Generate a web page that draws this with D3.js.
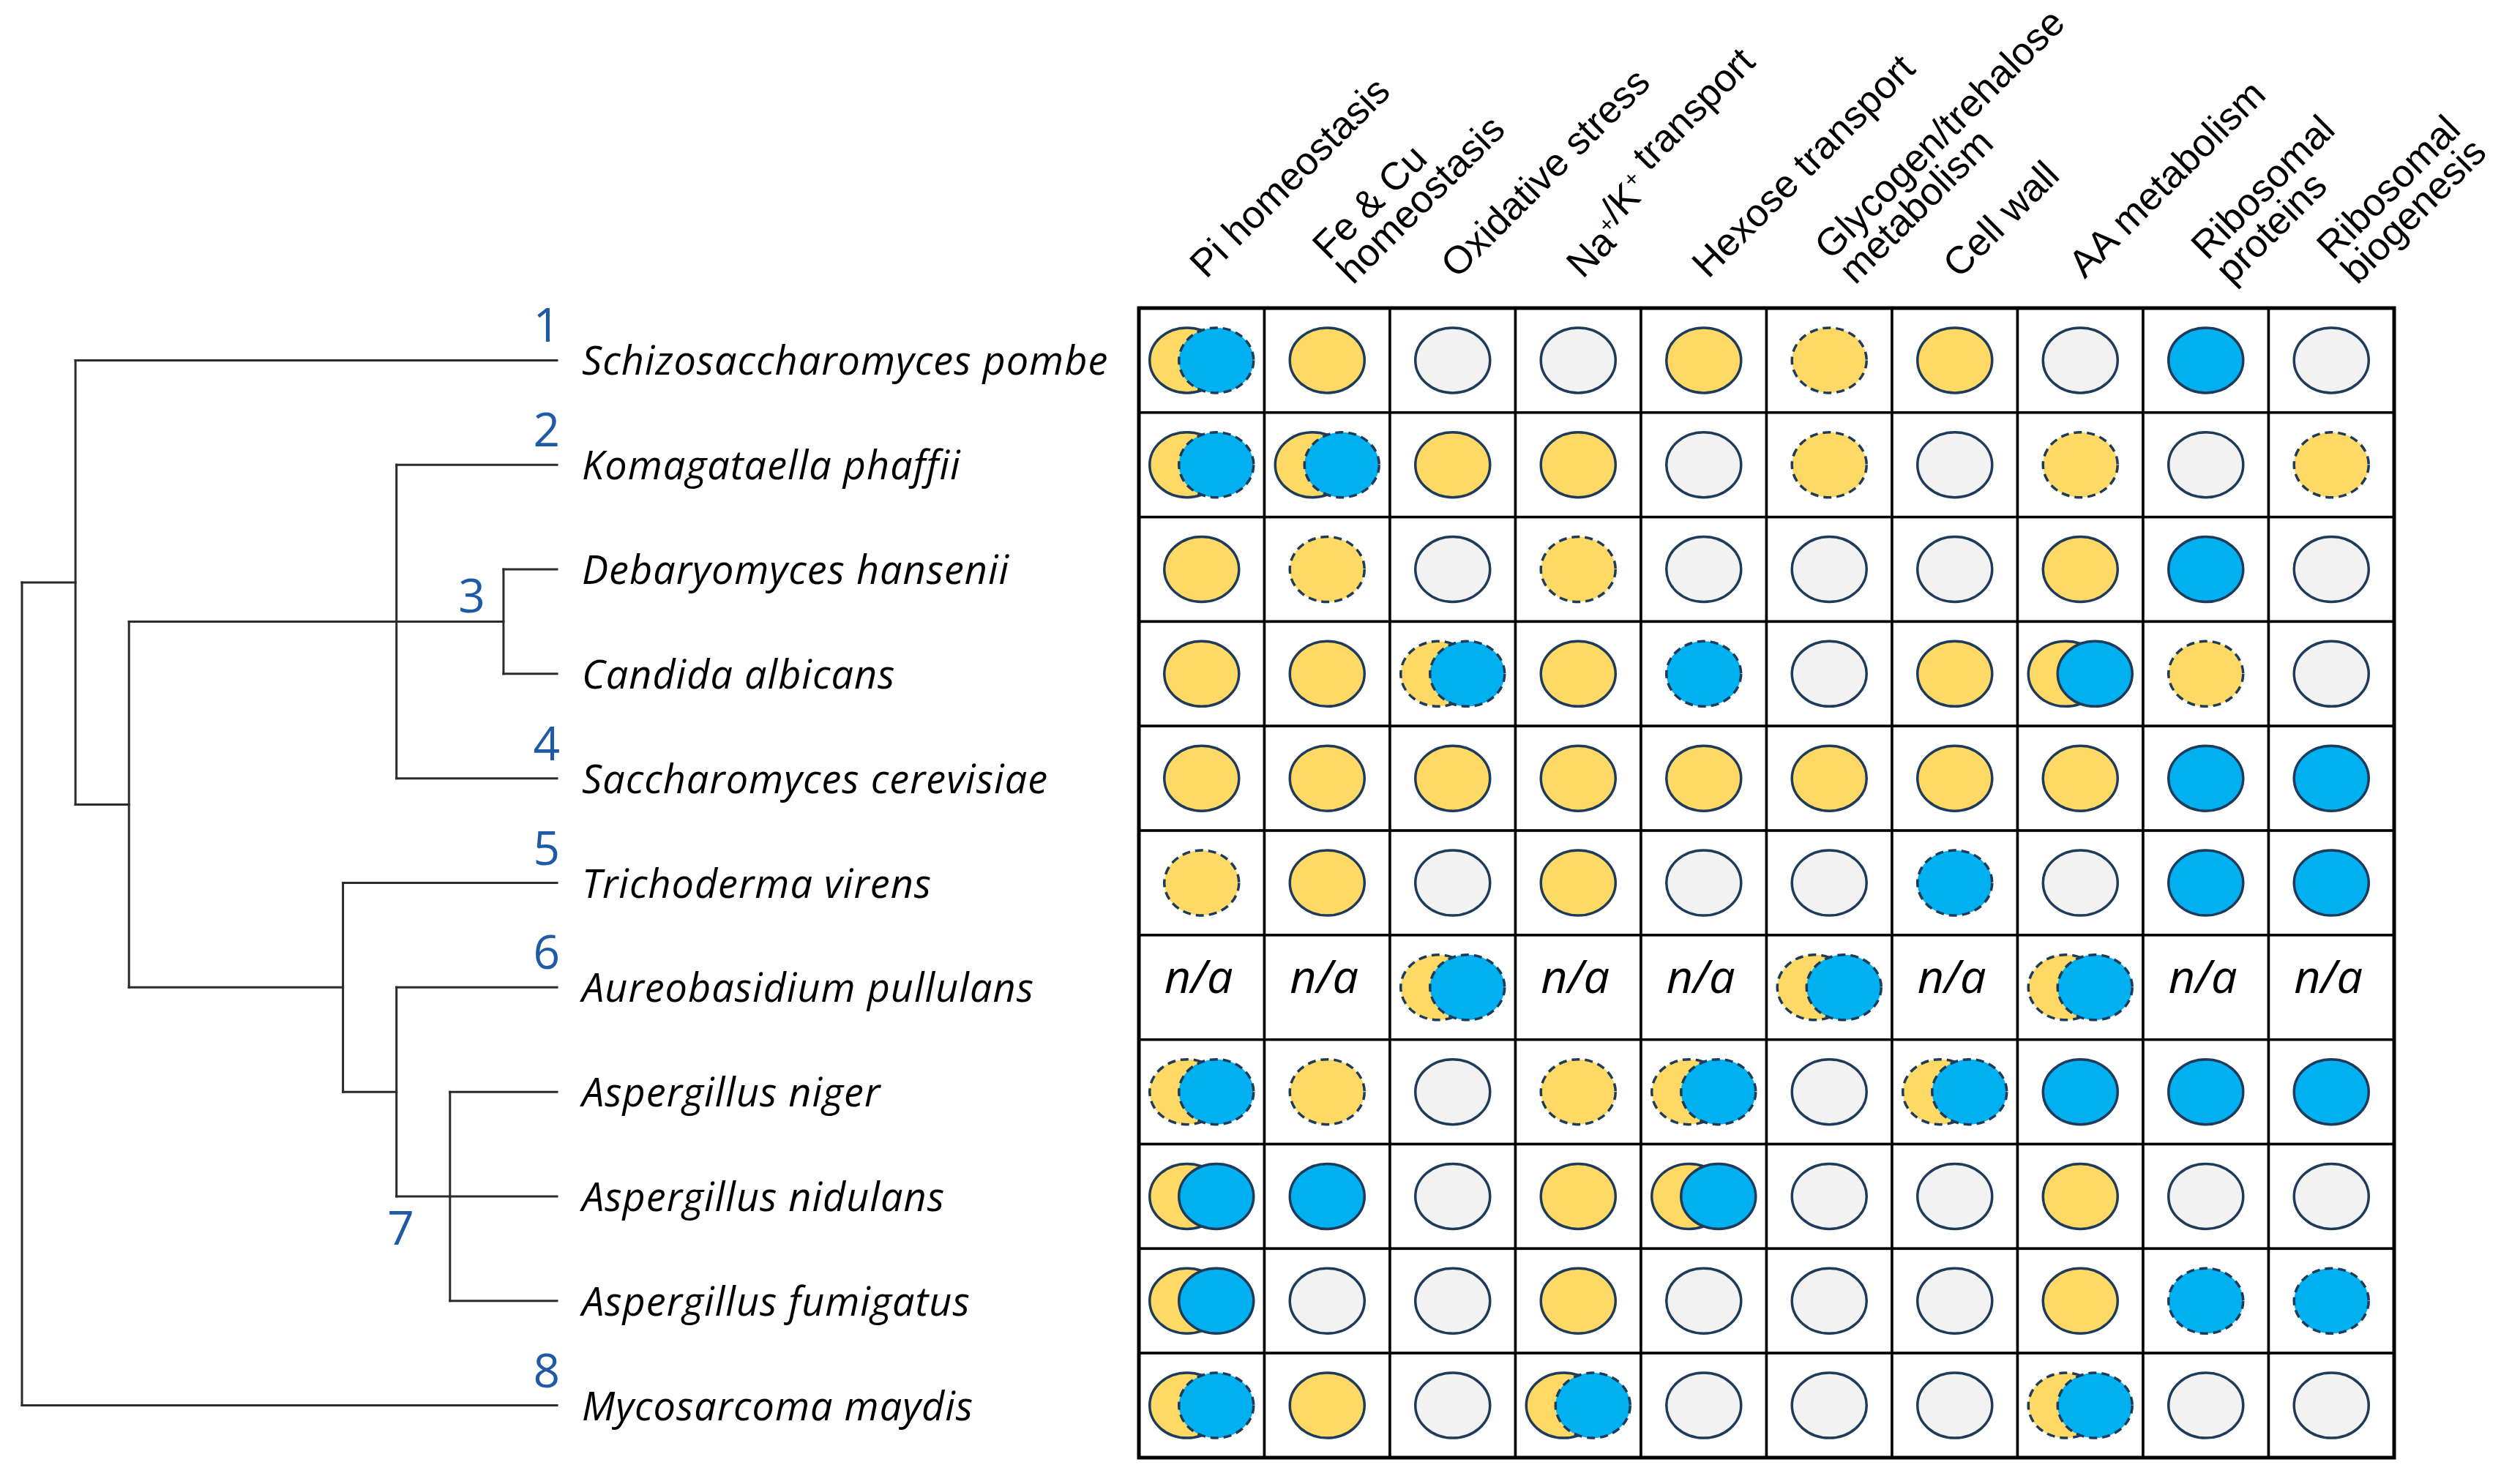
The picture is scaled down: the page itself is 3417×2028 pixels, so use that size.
<!DOCTYPE html>
<html>
<head>
<meta charset="utf-8">
<title>fungal species x process matrix</title>
<script src="https://cdn.jsdelivr.net/npm/d3@7"></script>
<style>
  body { margin: 0; background: #fff; }
  svg { display: block; }
  .species { font-family: "Open Sans", sans-serif; font-style: italic; font-size: 54px; letter-spacing: 1px; fill: #000; }
  .header { font-family: "Liberation Sans", Arial, sans-serif; font-size: 53px; fill: #000; }
  .clade { font-family: "Open Sans", sans-serif; font-size: 64px; fill: #1f5aa6; }
  .na { font-family: "Open Sans", sans-serif; font-style: italic; font-size: 63px; fill: #000; }
</style>
</head>
<body>
<script>
// rows, top to bottom
var species = [
  "Schizosaccharomyces pombe",
  "Komagataella phaffii",
  "Debaryomyces hansenii",
  "Candida albicans",
  "Saccharomyces cerevisiae",
  "Trichoderma virens",
  "Aureobasidium pullulans",
  "Aspergillus niger",
  "Aspergillus nidulans",
  "Aspergillus fumigatus",
  "Mycosarcoma maydis"
];

// columns (\n = line break in the header)
var categories = [
  "Pi homeostasis",
  "Fe & Cu\nhomeostasis",
  "Oxidative stress",
  "Na+/K+ transport",
  "Hexose transport",
  "Glycogen/trehalose\nmetabolism",
  "Cell wall",
  "AA metabolism",
  "Ribosomal\nproteins",
  "Ribosomal\nbiogenesis"
];

// Y yellow, B blue, G grey; lower case = dashed outline; two letters = overlapping pair; na = n/a
var cells = [
  ["Yb", "Y",  "G",  "G",  "Y",  "y",  "Y",  "G",  "B", "G"],
  ["Yb", "Yb", "Y",  "Y",  "G",  "y",  "G",  "y",  "G", "y"],
  ["Y",  "y",  "G",  "y",  "G",  "G",  "G",  "Y",  "B", "G"],
  ["Y",  "Y",  "yb", "Y",  "b",  "G",  "Y",  "YB", "y", "G"],
  ["Y",  "Y",  "Y",  "Y",  "Y",  "Y",  "Y",  "Y",  "B", "B"],
  ["y",  "Y",  "G",  "Y",  "G",  "G",  "b",  "G",  "B", "B"],
  ["na", "na", "yb", "na", "na", "yb", "na", "yb", "na", "na"],
  ["yb", "y",  "G",  "y",  "yb", "G",  "yb", "B",  "B", "B"],
  ["YB", "B",  "G",  "Y",  "YB", "G",  "G",  "Y",  "G", "G"],
  ["YB", "G",  "G",  "Y",  "G",  "G",  "G",  "Y",  "b", "b"],
  ["Yb", "Y",  "G",  "Yb", "G",  "G",  "G",  "yb", "G", "G"]
];

// cladogram; dist = branch position (root 0, tips 1)
var tree = {name: "root", dist: 0, children: [
  {name: "n1", dist: 0.1, children: [
    {name: "Schizosaccharomyces pombe"},
    {name: "n2", dist: 0.2, children: [
      {name: "nSacch", dist: 0.7, children: [
        {name: "Komagataella phaffii"},
        {name: "n3", dist: 0.9, children: [
          {name: "Debaryomyces hansenii"},
          {name: "Candida albicans"}
        ]},
        {name: "Saccharomyces cerevisiae"}
      ]},
      {name: "nPezi", dist: 0.6, children: [
        {name: "Trichoderma virens"},
        {name: "nDoth", dist: 0.7, children: [
          {name: "Aureobasidium pullulans"},
          {name: "nAsp", dist: 0.8, children: [
            {name: "Aspergillus niger"},
            {name: "Aspergillus nidulans"},
            {name: "Aspergillus fumigatus"}
          ]}
        ]}
      ]}
    ]}
  ]},
  {name: "Mycosarcoma maydis"}
]};

var cladeLabels = [
  {label: "1", node: "Schizosaccharomyces pombe", side: "tip"},
  {label: "2", node: "Komagataella phaffii", side: "tip"},
  {label: "3", node: "n3", side: "left"},
  {label: "4", node: "Saccharomyces cerevisiae", side: "tip"},
  {label: "5", node: "Trichoderma virens", side: "tip"},
  {label: "6", node: "Aureobasidium pullulans", side: "tip"},
  {label: "7", node: "nAsp", side: "below"},
  {label: "8", node: "Mycosarcoma maydis", side: "tip"}
];

var fills = {Y: "#ffd966", B: "#00b0f0", G: "#f2f2f2"};
var outline = "#1f3b5a";

var W = 3417, H = 2028;
var svg = d3.select("body").append("svg")
    .attr("width", W)
    .attr("height", H);

var x = d3.scaleBand().domain(categories).range([1556, 3271]);
var y = d3.scaleBand().domain(species).range([421, 1992]);
var tx = d3.scaleLinear().domain([0, 1]).range([30, 761]);

// ---- tree ----
var root = d3.hierarchy(tree);
root.eachAfter(function(n) {
    n.px = tx(n.data.dist == null ? 1 : n.data.dist);
    if (n.children) {
        n.py = (n.children[0].py + n.children[n.children.length - 1].py) / 2;
    } else {
        n.py = y(n.data.name) + y.bandwidth() / 2;
    }
});

var treeG = svg.append("g")
    .attr("fill", "none")
    .attr("stroke", "#2b2b2b")
    .attr("stroke-width", 3)
    .attr("stroke-linecap", "square");

treeG.selectAll("path.v")
    .data(root.descendants().filter(function(d) { return d.children; }))
    .join("path")
    .attr("class", "v")
    .attr("d", function(d) {
        return "M" + d.px + "," + d.children[0].py + "V" + d.children[d.children.length - 1].py;
    });

treeG.selectAll("path.h")
    .data(root.descendants().filter(function(d) { return d.parent; }))
    .join("path")
    .attr("class", "h")
    .attr("d", function(d) { return "M" + d.parent.px + "," + d.py + "H" + d.px; });

svg.append("g").selectAll("text")
    .data(root.leaves())
    .join("text")
    .attr("class", "species")
    .attr("x", tx(1) + 34)
    .attr("y", function(d) { return d.py + 20; })
    .text(function(d) { return d.data.name; });

var byName = {};
root.descendants().forEach(function(d) { byName[d.data.name] = d; });

svg.append("g").selectAll("text")
    .data(cladeLabels)
    .join("text")
    .attr("class", "clade")
    .attr("text-anchor", "end")
    .attr("x", function(d) {
        var n = byName[d.node];
        if (d.side == "left") return n.px - 25;
        if (d.side == "below") return n.px - 49;
        return n.px + 4;
    })
    .attr("y", function(d) {
        var n = byName[d.node];
        if (d.side == "left") return n.py - 12;
        if (d.side == "below") return n.py + 66;
        return n.py - 25;
    })
    .text(function(d) { return d.label; });

// ---- column headers ----
var headers = svg.append("g").selectAll("g")
    .data(categories)
    .join("g")
    .attr("class", "header")
    .attr("transform", function(d) {
        var lines = d.split("\n").length;
        var cx = x(d) + x.bandwidth() / 2;
        return lines > 1
            ? "translate(" + (cx + 2) + ",357) rotate(-45)"
            : "translate(" + (cx + 6) + ",382) rotate(-45)";
    });

headers.each(function(d) {
    var g = d3.select(this);
    d.split("\n").forEach(function(line, i) {
        var t = g.append("text").attr("x", 0).attr("y", i * 47);
        line.split(/(\+)/).forEach(function(part) {
            if (!part) return;
            if (part == "+") {
                t.append("tspan").attr("dy", -20).attr("font-size", 30).text("+");
                t.append("tspan").attr("dy", 20).text("");
            } else {
                t.append("tspan").text(part);
            }
        });
    });
});

// ---- matrix ----
var flat = [];
species.forEach(function(s, i) {
    categories.forEach(function(c, j) {
        flat.push({s: s, c: c, v: cells[i][j]});
    });
});

var cell = svg.append("g").selectAll("g")
    .data(flat)
    .join("g")
    .attr("transform", function(d) { return "translate(" + x(d.c) + "," + y(d.s) + ")"; });

cell.append("rect")
    .attr("width", x.bandwidth())
    .attr("height", y.bandwidth())
    .attr("fill", "#fff")
    .attr("stroke", "#000")
    .attr("stroke-width", 3.5);

var cw = x.bandwidth(), ch = y.bandwidth();

function marks(d) {
    if (d.v == "na") return [];
    var n = d.v.length;
    return d.v.split("").map(function(k, i) {
        return {
            fill: fills[k.toUpperCase()],
            dashed: k != k.toUpperCase(),
            dx: n == 1 ? 0 : (i == 0 ? -20 : 20)
        };
    });
}

cell.selectAll("ellipse")
    .data(marks)
    .join("ellipse")
    .attr("cx", function(m) { return cw / 2 + m.dx; })
    .attr("cy", ch / 2)
    .attr("rx", 51)
    .attr("ry", 44.5)
    .attr("fill", function(m) { return m.fill; })
    .attr("stroke", outline)
    .attr("stroke-width", 3.5)
    .attr("stroke-dasharray", function(m) { return m.dashed ? "11,7" : null; });

cell.filter(function(d) { return d.v == "na"; })
    .append("text")
    .attr("class", "na")
    .attr("text-anchor", "middle")
    .attr("x", cw / 2 - 4)
    .attr("y", ch / 2 + 8)
    .text("n/a");

svg.append("rect")
    .attr("x", x.range()[0])
    .attr("y", y.range()[0])
    .attr("width", x.range()[1] - x.range()[0])
    .attr("height", y.range()[1] - y.range()[0])
    .attr("fill", "none")
    .attr("stroke", "#000")
    .attr("stroke-width", 5);
</script>
</body>
</html>
